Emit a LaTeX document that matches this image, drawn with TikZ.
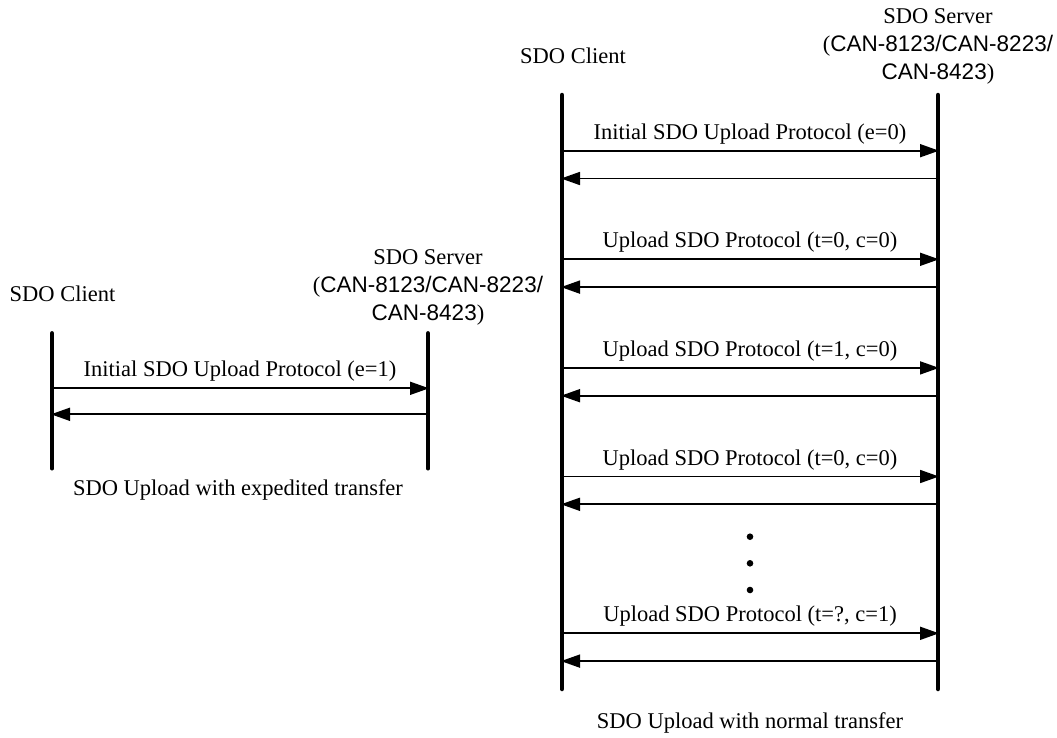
\documentclass[tikz,border=0pt]{standalone}
\usepackage{fontspec}
\setmainfont{Liberation Serif}
\newfontfamily\arialf{Liberation Sans}
\usetikzlibrary{arrows.meta}
\tikzset{
  lifeline/.style={line width=4.5pt, line cap=round},
  msg/.style={line width=1.7pt, -{Triangle[length=19pt,width=13pt]}, shorten >=-1pt},
  lbl/.style={inner sep=0pt, anchor=base, font=\fontsize{22.5}{21}\selectfont},
  hdr/.style={inner sep=0pt, anchor=north, align=center, font=\fontsize{22.5}{24.5}\selectfont},
  dot/.style={circle, fill=black, inner sep=0pt, minimum size=6.6pt}
}
\begin{document}
\begin{tikzpicture}[x=1pt,y=-1pt]
\useasboundingbox (0,0) rectangle (1057,737);
% ---------- right diagram (normal transfer) ----------
\coordinate (rcTop) at (562,95);
\coordinate (rcBot) at (562,689);
\coordinate (rsTop) at (938,95);
\coordinate (rsBot) at (938,689);
\draw[lifeline] (rcTop) -- (rcBot);
\draw[lifeline] (rsTop) -- (rsBot);
\node[lbl] (rclient) at (573,63.3) {SDO Client};
\node[hdr] (rserver) at (938,8.1) {SDO Server\\[3.5pt]({\arialf CAN-8123/CAN-8223/}\\[3.5pt]{\arialf CAN-8423})};
\foreach \i/\y/\t in {1/150.7/{Initial SDO Upload Protocol (e=0)},
                     2/259.3/{Upload SDO Protocol (t=0, c=0)},
                     3/367.9/{Upload SDO Protocol (t=1, c=0)},
                     4/476.5/{Upload SDO Protocol (t=0, c=0)},
                     5/633.3/{Upload SDO Protocol (t=?, c=1)}}{
  \coordinate (rc\i) at (562,\y);
  \coordinate (rs\i) at (938,\y);
  \coordinate (rcb\i) at (562,\y+27.8);
  \coordinate (rsb\i) at (938,\y+27.8);
  \draw[msg] (rc\i) -- (rs\i);
  \draw[msg] (rsb\i) -- (rcb\i);
  \node[lbl] (rl\i) at (750,\y-11.5) {\t};
}
\node[dot] (d1) at (750,536.7) {};
\node[dot] (d2) at (750,563.3) {};
\node[dot] (d3) at (750,590) {};
\node[lbl] (rcap) at (750,728.3) {SDO Upload with normal transfer};
% ---------- left diagram (expedited transfer) ----------
\coordinate (lcTop) at (52,333.3);
\coordinate (lcBot) at (52,468.3);
\coordinate (lsTop) at (428,333.3);
\coordinate (lsBot) at (428,468.3);
\draw[lifeline] (lcTop) -- (lcBot);
\draw[lifeline] (lsTop) -- (lsBot);
\node[lbl] (lclient) at (62.5,301.7) {SDO Client};
\node[hdr] (lserver) at (428,249.1) {SDO Server\\[3.5pt]({\arialf CAN-8123/CAN-8223/}\\[3.5pt]{\arialf CAN-8423})};
\coordinate (lc1) at (52,388.3);
\coordinate (ls1) at (428,388.3);
\coordinate (lcb1) at (52,414.3);
\coordinate (lsb1) at (428,414.3);
\draw[msg] (lc1) -- (ls1);
\draw[msg] (lsb1) -- (lcb1);
\node[lbl] (ll1) at (240,376.7) {Initial SDO Upload Protocol (e=1)};
\node[lbl] (lcap) at (238,495) {SDO Upload with expedited transfer};
\end{tikzpicture}
\end{document}
